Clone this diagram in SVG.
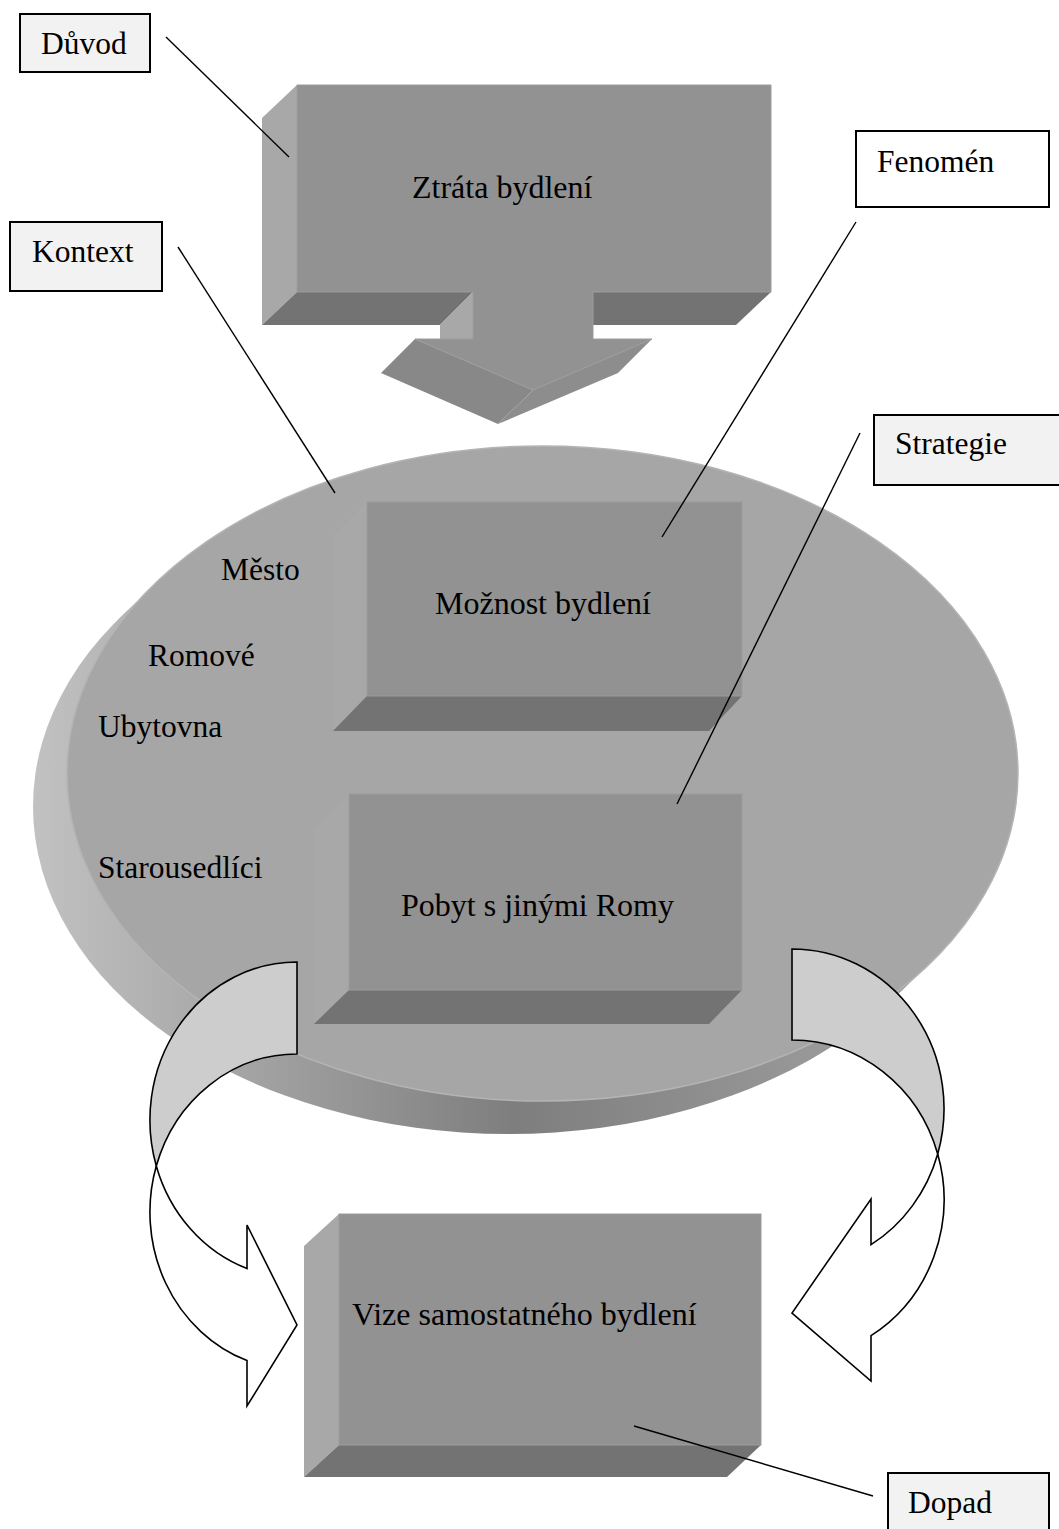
<svg xmlns="http://www.w3.org/2000/svg" width="1059" height="1529" viewBox="0 0 1059 1529">
<defs>
<linearGradient id="side" gradientUnits="userSpaceOnUse" x1="30" y1="0" x2="1000" y2="0">
<stop offset="0" stop-color="#c2c2c2"/>
<stop offset="0.5" stop-color="#7e7e7e"/>
<stop offset="1" stop-color="#a8a8a8"/>
</linearGradient>
</defs>
<style>
.t{font-family:"Liberation Serif","Times New Roman",serif;font-size:31.5px;fill:#000}
.tb{font-family:"Liberation Serif","Times New Roman",serif;font-size:32px;fill:#000}
.front{fill:#929292;stroke:#9c9c9c;stroke-width:1}
.light{fill:#a8a8a8}
.dark{fill:#737373}
.lbl{stroke:#000;stroke-width:2}
.con{stroke:#000;stroke-width:1.4;fill:none}
.band{stroke:#000;stroke-width:1.6}
</style>

<g id="context-ellipse">
<g fill="url(#side)">
<ellipse cx="508.5" cy="806.5" rx="475.5" ry="327.5"/>
<polygon points="150.9,587.7 116.9,620.7 900.1,992.3 934.1,959.3"/>
</g>
<ellipse cx="542.5" cy="773.5" rx="475.5" ry="327.5" fill="#a6a6a6" stroke="#b4b4b4" stroke-width="1.5"/>
<text class="t" x="221" y="580">Město</text>
<text class="t" x="148" y="666">Romové</text>
<text class="t" x="98" y="737">Ubytovna</text>
<text class="t" x="98" y="878">Starousedlíci</text>
</g>

<g id="node-moznost">
<polygon class="light" points="333,536 367,502 367,696 333,731"/>
<polygon class="dark" points="367,696 742,696 709,731 333,731"/>
<rect class="front" x="367" y="502" width="375" height="194"/>
<text class="tb" x="435" y="614">Možnost bydlení</text>
</g>

<g id="node-pobyt">
<polygon class="light" points="314,828 349,794 349,990 314,1024"/>
<polygon class="dark" points="349,990 742,990 709,1024 314,1024"/>
<rect class="front" x="349" y="794" width="393" height="196"/>
<text class="tb" x="401" y="916">Pobyt s jinými Romy</text>
</g>

<g id="node-ztrata">
<polygon class="light" points="262,118 297,85 297,292 262,325"/>
<polygon class="dark" points="297,292 473,292 440,325 262,325"/>
<polygon class="light" points="473,292 473,339 440,339 440,325"/>
<polygon class="dark" points="593,292 771,292 736,325 593,325"/>
<polygon fill="#888888" points="415,339 533,390 498,424 381,373"/>
<polygon fill="#8d8d8d" points="533,390 652,339 618,373 498,424"/>
<polygon class="front" points="297,85 771,85 771,292 593,292 593,339 652,339 533,390 415,339 473,339 473,292 297,292"/>
<text class="tb" x="412" y="198">Ztráta bydlení</text>
</g>

<g id="node-vize">
<polygon class="light" points="304,1246 339,1214 339,1445 304,1477"/>
<polygon class="dark" points="339,1445 761,1445 727,1477 304,1477"/>
<rect class="front" x="339" y="1214" width="422" height="231"/>
<text class="tb" x="352" y="1325">Vize samostatného bydlení</text>
</g>

<g id="arrow-left">
<path class="band" fill="#cdcdcd" d="M297,962 A147,158 0 0 0 156.3,1166 A147,158 0 0 1 297,1054 Z"/>
<path class="band" fill="#ffffff" d="M156.3,1166 A147,158 0 0 0 247,1360.6 L247,1406 L297,1325 L247,1225 L247,1268.6 A147,158 0 0 1 156.3,1166 Z"/>
</g>

<g id="arrow-right">
<path class="band" fill="#cdcdcd" d="M792,949 A152,159.5 0 0 1 937.7,1154 A152,159.5 0 0 0 792,1040 Z"/>
<path class="band" fill="#ffffff" d="M937.7,1154 A152,159.5 0 0 1 871,1335.7 L871,1381 L792,1313 L871,1199 L871,1244.7 A152,159.5 0 0 0 937.7,1154 Z"/>
</g>

<g id="label-duvod">
<rect class="lbl" x="20" y="14" width="130" height="58" fill="#f2f2f2"/>
<text class="t" x="41" y="54">Důvod</text>
</g>
<g id="label-kontext">
<rect class="lbl" x="10" y="222" width="152" height="69" fill="#f2f2f2"/>
<text class="t" x="32" y="262">Kontext</text>
</g>
<g id="label-fenomen">
<rect class="lbl" x="856" y="131" width="193" height="76" fill="#ffffff"/>
<text class="t" x="877" y="172">Fenomén</text>
</g>
<g id="label-strategie">
<rect class="lbl" x="874" y="415" width="200" height="70" fill="#f2f2f2"/>
<text class="t" x="895" y="454">Strategie</text>
</g>
<g id="label-dopad">
<rect class="lbl" x="888" y="1473" width="161" height="70" fill="#f2f2f2"/>
<text class="t" x="908" y="1513">Dopad</text>
</g>

<g id="connectors">
<line class="con" x1="166" y1="37" x2="289" y2="157"/>
<line class="con" x1="178" y1="247" x2="335" y2="493"/>
<line class="con" x1="856" y1="222" x2="662" y2="537"/>
<line class="con" x1="860" y1="433" x2="677" y2="804"/>
<line class="con" x1="634" y1="1426" x2="873" y2="1496"/>
</g>
</svg>
